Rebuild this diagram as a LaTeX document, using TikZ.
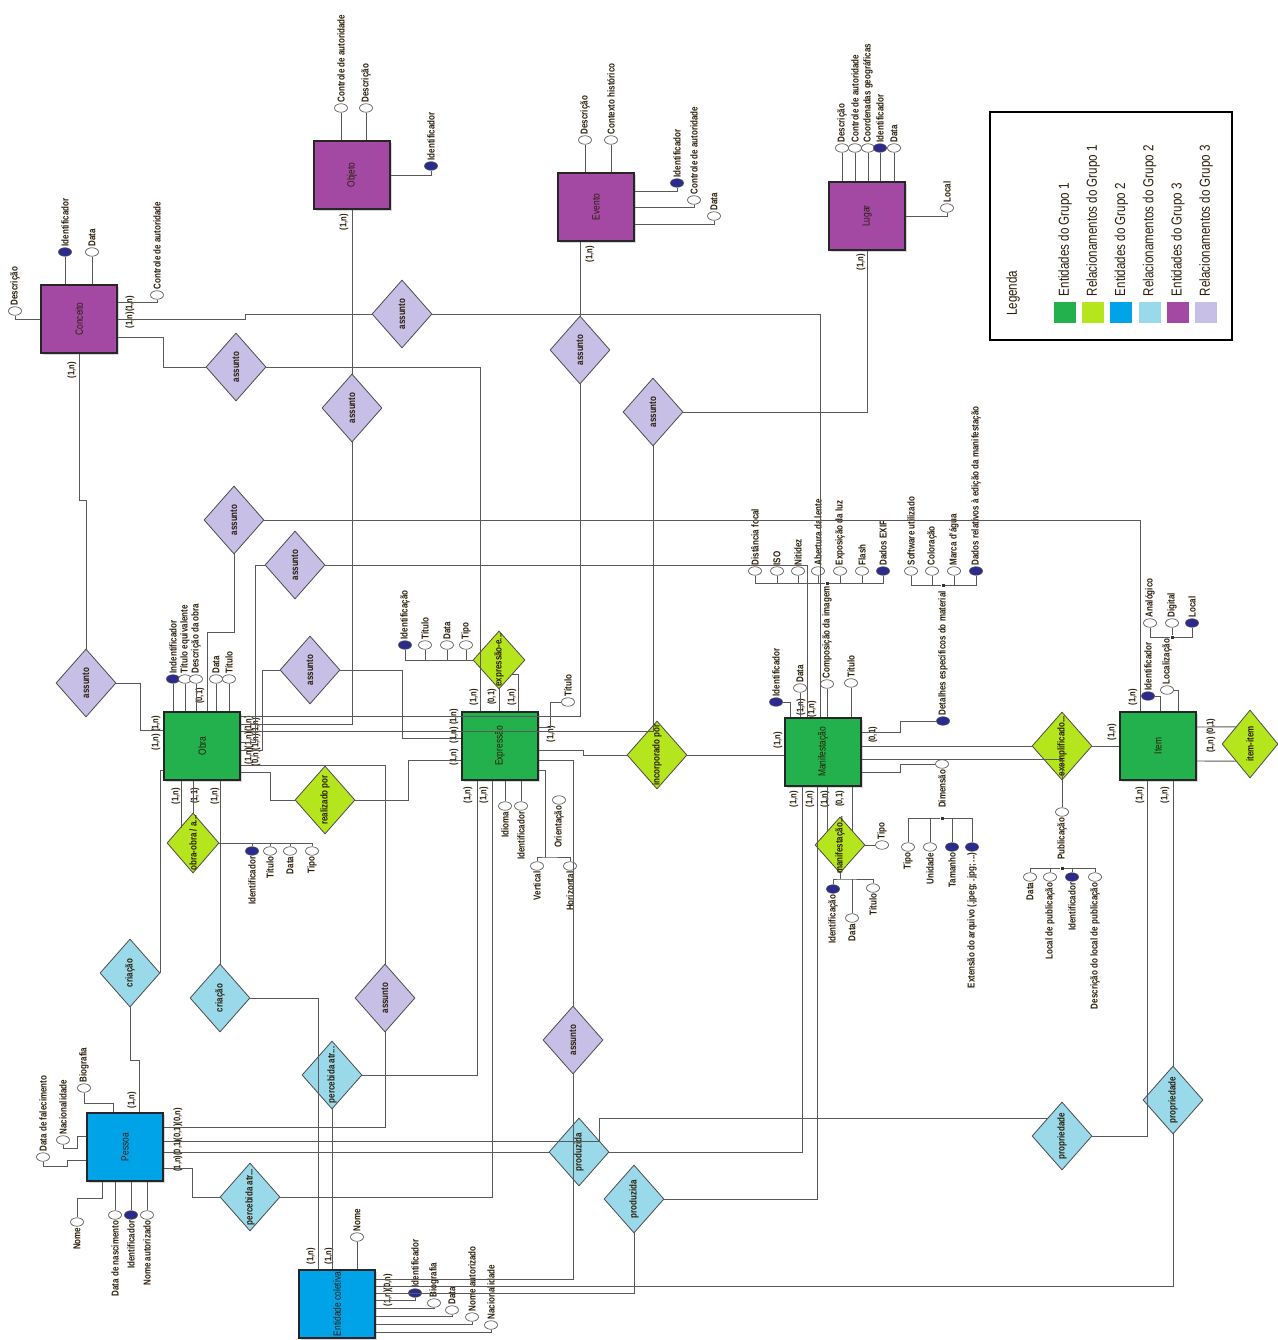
\documentclass[tikz,border=0pt]{standalone}
\usepackage{fontspec}
\setmainfont{Liberation Sans}[FakeStretch=0.8]
\usepackage{graphicx}
\usepackage{tikz}
\usetikzlibrary{shapes.geometric,positioning,calc,shadows}
\definecolor{GrpOneEnt}{HTML}{22B14C}
\definecolor{GrpOneRel}{HTML}{B5E61D}
\definecolor{GrpTwoEnt}{HTML}{00A2E8}
\definecolor{GrpTwoRel}{HTML}{99D9EA}
\definecolor{GrpThreeEnt}{HTML}{A349A4}
\definecolor{GrpThreeRel}{HTML}{C8BFE7}
\definecolor{KeyNavy}{HTML}{2B2B8F}
\definecolor{Ink}{HTML}{2A1E0A}
\newcommand{\vtxt}[1]{\rotatebox{90}{\makebox[0pt]{#1}}}

\begin{document}
\begin{tikzpicture}[x=1pt,y=-1pt,
  every node/.append style={text=Ink},
  entity/.style={draw=black!85,line width=1.3pt,minimum width=76pt,minimum height=68pt,inner sep=0pt,
                 font=\fontsize{10.5}{10.5}\selectfont,drop shadow={shadow xshift=2pt,shadow yshift=-2pt,fill=black!30}},
  rel/.style={diamond,draw=black!70,line width=0.8pt,minimum width=60pt,minimum height=68pt,inner sep=0pt,
              font=\fontsize{10}{10}\selectfont\bfseries},
  attr/.style={ellipse,draw=black!70,line width=0.6pt,fill=white,minimum width=13pt,minimum height=8.5pt,inner sep=0pt},
  keyattr/.style={attr,fill=KeyNavy},
  lblup/.style={rotate=90,anchor=west,inner sep=1pt,font=\fontsize{10}{10}\selectfont\bfseries},
  lbldn/.style={rotate=90,anchor=east,inner sep=1pt,font=\fontsize{10}{10}\selectfont\bfseries},
  card/.style={rotate=90,inner sep=0pt,font=\fontsize{9.5}{9.5}\selectfont\bfseries},
  link/.style={draw=black!65,line width=0.9pt},
  junction/.style={fill=black!80,minimum size=3pt,inner sep=0pt},
  swatch/.style={minimum width=22pt,minimum height=21pt,inner sep=0pt},
  legtext/.style={rotate=90,anchor=west,inner sep=0pt,font=\fontsize{14.5}{14.5}\selectfont}
]
\fill[white] (0,0) rectangle (1277,1340);
\useasboundingbox (0,0) rectangle (1277,1340);

% entidades
\node[entity,fill=GrpThreeEnt] (conceito) at (79,319) {\vtxt{Conceito}};
\node[entity,fill=GrpThreeEnt] (objeto) at (352,175) {\vtxt{Objeto}};
\node[entity,fill=GrpThreeEnt] (evento) at (596,207) {\vtxt{Evento}};
\node[entity,fill=GrpThreeEnt] (lugar) at (867,216) {\vtxt{Lugar}};
\node[entity,fill=GrpOneEnt] (obra) at (202,746) {\vtxt{Obra}};
\node[entity,fill=GrpOneEnt] (expressao) at (500,746) {\vtxt{Expressão}};
\node[entity,fill=GrpOneEnt] (manifestacao) at (823,752) {\vtxt{Manifestação}};
\node[entity,fill=GrpOneEnt] (item) at (1158,746) {\vtxt{Item}};
\node[entity,fill=GrpTwoEnt] (pessoa) at (125,1147) {\vtxt{Pessoa}};
\node[entity,fill=GrpTwoEnt] (coletiva) at (337,1304) {\vtxt{Entidade coletiva}};

% relacionamentos do grupo 3
\node[rel,fill=GrpThreeRel] (sC1) at (402,314) {\vtxt{assunto}};
\node[rel,fill=GrpThreeRel] (sC2) at (236,367) {\vtxt{assunto}};
\node[rel,fill=GrpThreeRel] (sC3) at (86,683) {\vtxt{assunto}};
\node[rel,fill=GrpThreeRel] (sObj) at (352,408) {\vtxt{assunto}};
\node[rel,fill=GrpThreeRel] (sEv) at (580,350) {\vtxt{assunto}};
\node[rel,fill=GrpThreeRel] (sLu) at (653,412) {\vtxt{assunto}};
\node[rel,fill=GrpThreeRel] (sIt) at (234,520) {\vtxt{assunto}};
\node[rel,fill=GrpThreeRel] (sMa) at (295,565) {\vtxt{assunto}};
\node[rel,fill=GrpThreeRel] (sEx) at (310,670) {\vtxt{assunto}};
\node[rel,fill=GrpThreeRel] (sPe) at (385,998) {\vtxt{assunto}};
\node[rel,fill=GrpThreeRel] (sCo) at (573,1040) {\vtxt{assunto}};

% relacionamentos do grupo 1
\node[rel,fill=GrpOneRel] (realizado) at (325,800) {\vtxt{realizado por}};
\node[rel,fill=GrpOneRel,minimum width=52pt,minimum height=60pt] (obraobra) at (193,843) {\vtxt{obra-obra / a...}};
\node[rel,fill=GrpOneRel,minimum width=52pt,minimum height=58pt] (exprexpr) at (499,660) {\vtxt{expressão-e...}};
\node[rel,fill=GrpOneRel] (incorporado) at (657,755) {\vtxt{incorporado por}};
\node[rel,fill=GrpOneRel,minimum width=50pt,minimum height=56pt] (manimani) at (840,845) {\vtxt{manifestação...}};
\node[rel,fill=GrpOneRel] (exemplificado) at (1062,746) {\vtxt{exemplificado...}};
\node[rel,fill=GrpOneRel,minimum width=56pt] (itemitem) at (1250,744) {\vtxt{item-item}};

% relacionamentos do grupo 2
\node[rel,fill=GrpTwoRel] (criP) at (130,973) {\vtxt{criação}};
\node[rel,fill=GrpTwoRel] (criC) at (220,998) {\vtxt{criação}};
\node[rel,fill=GrpTwoRel] (percP) at (250,1197) {\vtxt{percebida atr...}};
\node[rel,fill=GrpTwoRel] (percC) at (332,1075) {\vtxt{percebida atr...}};
\node[rel,fill=GrpTwoRel] (prodP) at (579,1152) {\vtxt{produzida}};
\node[rel,fill=GrpTwoRel] (prodC) at (634,1199) {\vtxt{produzida}};
\node[rel,fill=GrpTwoRel] (propP) at (1062,1136) {\vtxt{propriedade}};
\node[rel,fill=GrpTwoRel] (propC) at (1173,1100) {\vtxt{propriedade}};

% atributos: Conceito
\node[attr] (cDesc) at (15,311) {};
\node[lblup] (tcDesc) at (cDesc.north) {Descrição};
\node[keyattr] (cId) at (65,252) {};
\node[lblup] (tcId) at (cId.north) {Identificador};
\node[attr] (cData) at (92,252) {};
\node[lblup] (tcData) at (cData.north) {Data};
\node[attr] (cCtrl) at (157,295) {};
\node[lblup] (tcCtrl) at (cCtrl.north) {Controle de autoridade};

% atributos: Objeto
\node[attr] (oCtrl) at (341,108) {};
\node[lblup] (toCtrl) at (oCtrl.north) {Controle de autoridade};
\node[attr] (oDesc) at (366,108) {};
\node[lblup] (toDesc) at (oDesc.north) {Descrição};
\node[keyattr] (oId) at (431,166) {};
\node[lblup] (toId) at (oId.north) {Identificador};

% atributos: Evento
\node[attr] (eDesc) at (585,140) {};
\node[lblup] (teDesc) at (eDesc.north) {Descrição};
\node[attr] (eCtx) at (611,140) {};
\node[lblup] (teCtx) at (eCtx.north) {Contexto histórico};
\node[keyattr] (eId) at (677,183) {};
\node[lblup] (teId) at (eId.north) {Identificador};
\node[attr] (eCtrl) at (694,200) {};
\node[lblup] (teCtrl) at (eCtrl.north) {Controle de autoridade};
\node[attr] (eData) at (714,216) {};
\node[lblup] (teData) at (eData.north) {Data};

% atributos: Lugar
\node[attr] (lDesc) at (842,148) {};
\node[lblup] (tlDesc) at (lDesc.north) {Descrição};
\node[attr] (lCtrl) at (855,148) {};
\node[lblup] (tlCtrl) at (lCtrl.north) {Controle de autoridade};
\node[attr] (lCoord) at (868,148) {};
\node[lblup] (tlCoord) at (lCoord.north) {Coordenadas geográficas};
\node[keyattr] (lId) at (880,148) {};
\node[lblup] (tlId) at (lId.north) {Identificador};
\node[attr] (lData) at (894,148) {};
\node[lblup] (tlData) at (lData.north) {Data};
\node[attr] (lLocal) at (947,208) {};
\node[lblup] (tlLocal) at (lLocal.north) {Local};

% atributos: Obra
\node[keyattr] (obId) at (173,679) {};
\node[lblup] (tobId) at (obId.north) {Indentificador};
\node[attr] (obTeq) at (185,679) {};
\node[lblup] (tobTeq) at (obTeq.north) {Título equivalente};
\node[attr] (obDesc) at (196,679) {};
\node[lblup] (tobDesc) at (obDesc.north) {Descrição da obra};
\node[attr] (obData) at (216,679) {};
\node[lblup] (tobData) at (obData.north) {Data};
\node[attr] (obTit) at (229,679) {};
\node[lblup] (tobTit) at (obTit.north) {Título};
\node[keyattr] (ooId) at (252,851) {};
\node[lbldn] (tooId) at (ooId.south) {Identificador};
\node[attr] (ooTit) at (270,851) {};
\node[lbldn] (tooTit) at (ooTit.south) {Título};
\node[attr] (ooData) at (290,851) {};
\node[lbldn] (tooData) at (ooData.south) {Data};
\node[attr] (ooTipo) at (312,851) {};
\node[lbldn] (tooTipo) at (ooTipo.south) {Tipo};

% atributos: Expressao
\node[keyattr] (eeId) at (405,645) {};
\node[lblup] (teeId) at (eeId.north) {Identificação};
\node[attr] (eeTi) at (425,645) {};
\node[lblup] (teeTi) at (eeTi.north) {Título};
\node[attr] (eeDa) at (447,645) {};
\node[lblup] (teeDa) at (eeDa.north) {Data};
\node[attr] (eeTp) at (466,645) {};
\node[lblup] (teeTp) at (eeTp.north) {Tipo};
\node[attr] (exTit) at (568,702) {};
\node[lblup] (texTit) at (exTit.north) {Título};
\node[attr] (exIdi) at (505,806) {};
\node[lbldn] (texIdi) at (exIdi.south) {Idioma};
\node[attr] (exIdf) at (521,806) {};
\node[lbldn] (texIdf) at (exIdf.south) {Identificador};
\node[attr] (exOri) at (559,800) {};
\node[lbldn] (texOri) at (exOri.south) {Orientação};
\coordinate (oriJ) at (545,857);
\node[attr] (exVer) at (537,866) {};
\node[lbldn] (texVer) at (exVer.south) {Vertical};
\node[attr] (exHor) at (570,866) {};
\node[lbldn] (texHor) at (exHor.south) {Horizontal};

% atributos: Manifestacao
\node[keyattr] (mId) at (776,702) {};
\node[lblup] (tmId) at (mId.north) {Identificador};
\node[attr] (mData) at (800,688) {};
\node[lblup] (tmData) at (mData.north) {Data};
\node[attr] (mComp) at (827,684) {};
\node[lblup] (tmComp) at (mComp.north) {Composição da imagem};
\node[attr] (mTit) at (851,683) {};
\node[lblup] (tmTit) at (mTit.north) {Título};
\node[junction] (cpJ) at (827,583) {};
\node[attr] (cpDist) at (755,571) {};
\node[lblup] (tcpDist) at (cpDist.north) {Distância focal};
\node[attr] (cpIso) at (777,571) {};
\node[lblup] (tcpIso) at (cpIso.north) {ISO};
\node[attr] (cpNit) at (798,571) {};
\node[lblup] (tcpNit) at (cpNit.north) {Nitidez};
\node[attr] (cpAbe) at (818,571) {};
\node[lblup] (tcpAbe) at (cpAbe.north) {Abertura da lente};
\node[attr] (cpExp) at (840,571) {};
\node[lblup] (tcpExp) at (cpExp.north) {Exposição da luz};
\node[attr] (cpFla) at (862,571) {};
\node[lblup] (tcpFla) at (cpFla.north) {Flash};
\node[keyattr] (cpExif) at (883,571) {};
\node[lblup] (tcpExif) at (cpExif.north) {Dados EXIF};
\node[keyattr] (mDet) at (943,721) {};
\node[lblup] (tmDet) at (mDet.north) {Detalhes específicos do material};
\node[junction] (dtJ) at (943,585) {};
\node[attr] (dtSoft) at (911,571) {};
\node[lblup] (tdtSoft) at (dtSoft.north) {Software utilizado};
\node[attr] (dtCol) at (932,571) {};
\node[lblup] (tdtCol) at (dtCol.north) {Coloração};
\node[attr] (dtMarca) at (954,571) {};
\node[lblup] (tdtMarca) at (dtMarca.north) {Marca d'água};
\node[keyattr] (dtEd) at (976,571) {};
\node[lblup] (tdtEd) at (dtEd.north) {Dados relativos à edição da manifestação};
\node[attr] (mDim) at (942,764) {};
\node[lbldn] (tmDim) at (mDim.south) {Dimensão};
\node[junction] (dmJ) at (942,818) {};
\node[attr] (dmTipo) at (908,847) {};
\node[lbldn] (tdmTipo) at (dmTipo.south) {Tipo};
\node[attr] (dmUni) at (930,847) {};
\node[lbldn] (tdmUni) at (dmUni.south) {Unidade};
\node[keyattr] (dmTam) at (952,847) {};
\node[lbldn] (tdmTam) at (dmTam.south) {Tamanho};
\node[keyattr] (dmExt) at (972,847) {};
\node[lbldn] (tdmExt) at (dmExt.south) {Extensão do arquivo (.jpeg; .jpg; ...)};
\node[attr] (mPub) at (1062,812) {};
\node[lbldn] (tmPub) at (mPub.south) {Publicação};
\node[junction] (pbJ) at (1062,868) {};
\node[attr] (pbData) at (1030,877) {};
\node[lbldn] (tpbData) at (pbData.south) {Data};
\node[attr] (pbLocal) at (1050,877) {};
\node[lbldn] (tpbLocal) at (pbLocal.south) {Local de publicação};
\node[keyattr] (pbId) at (1072,877) {};
\node[lbldn] (tpbId) at (pbId.south) {Identificador};
\node[attr] (pbDesc) at (1095,877) {};
\node[lbldn] (tpbDesc) at (pbDesc.south) {Descrição do local de publicação};
\node[attr] (mmTipo) at (882,845) {};
\node[lblup] (tmmTipo) at (mmTipo.north) {Tipo};
\coordinate (mmBar) at (840,879);
\node[keyattr] (mmId) at (833,889) {};
\node[lbldn] (tmmId) at (mmId.south) {Identificação};
\node[attr] (mmDa) at (852,918) {};
\node[lbldn] (tmmDa) at (mmDa.south) {Data};
\node[attr] (mmTi) at (873,888) {};
\node[lbldn] (tmmTi) at (mmTi.south) {Título};

% atributos: Item
\node[keyattr] (iId) at (1148,696) {};
\node[lblup] (tiId) at (iId.north) {Identificador};
\node[attr] (iLoc) at (1167,690) {};
\node[lblup] (tiLoc) at (iLoc.north) {Localização};
\node[junction] (lcJ) at (1172,637) {};
\node[attr] (lcAna) at (1150,623) {};
\node[lblup] (tlcAna) at (lcAna.north) {Analógico};
\node[attr] (lcDig) at (1172,623) {};
\node[lblup] (tlcDig) at (lcDig.north) {Digital};
\node[keyattr] (lcLocal) at (1192,623) {};
\node[lblup] (tlcLocal) at (lcLocal.north) {Local};

% atributos: Pessoa
\node[attr] (pBio) at (84,1088) {};
\node[lblup] (tpBio) at (pBio.north) {Biografia};
\node[attr] (pNac) at (63,1140) {};
\node[lblup] (tpNac) at (pNac.north) {Nacionalidade};
\node[attr] (pFal) at (43,1157) {};
\node[lblup] (tpFal) at (pFal.north) {Data de falecimento};
\node[attr] (pNome) at (77,1222) {};
\node[lbldn] (tpNome) at (pNome.south) {Nome};
\node[attr] (pNasc) at (115,1215) {};
\node[lbldn] (tpNasc) at (pNasc.south) {Data de nascimento};
\node[keyattr] (pId) at (131,1215) {};
\node[lbldn] (tpId) at (pId.south) {Identificador};
\node[attr] (pNAut) at (147,1215) {};
\node[lbldn] (tpNAut) at (pNAut.south) {Nome autorizado};

% atributos: Entidade coletiva
\node[attr] (ecNome) at (357,1237) {};
\node[lblup] (tecNome) at (ecNome.north) {Nome};
\node[keyattr] (ecId) at (415,1293) {};
\node[lblup] (tecId) at (ecId.north) {Identificador};
\node[attr] (ecBio) at (434,1303) {};
\node[lblup] (tecBio) at (ecBio.north) {Biografia};
\node[attr] (ecData) at (452,1310) {};
\node[lblup] (tecData) at (ecData.north) {Data};
\node[attr] (ecNAut) at (472,1317) {};
\node[lblup] (tecNAut) at (ecNAut.north) {Nome autorizado};
\node[attr] (ecNac) at (491,1325) {};
\node[lblup] (tecNac) at (ecNac.north) {Nacionalidade};

% cardinalidades
\node[card] (k1) at (130,312) {(1,n)(1,n)};
\node[card] (k2) at (72,370) {(1,n)};
\node[card] (k3) at (344,222) {(1,n)};
\node[card] (k4) at (590,254) {(1,n)};
\node[card] (k5) at (861,262) {(1,n)};
\node[card] (k6) at (156,733) {(1,n) (1,n)};
\node[card] (k7) at (200,696) {(0,1)};
\node[card] (k8) at (176,796) {(1,n)};
\node[card] (k9) at (195,796) {(1,1)};
\node[card] (k10) at (215,796) {(1,n)};
\node[card] (k11) at (249,740) {(1,n)(1,n)(1,n)};
\node[card] (k12) at (256,742) {(0,n)(1,n)(1,n)};
\node[card] (k13) at (474,697) {(1,n)};
\node[card] (k14) at (492,697) {(0,1)};
\node[card] (k15) at (512,697) {(1,n)};
\node[card] (k16) at (454,726) {(1,n) (1,n)};
\node[card] (k17) at (454,757) {(1,n)};
\node[card] (k18) at (468,795) {(1,n)};
\node[card] (k19) at (484,795) {(1,n)};
\node[card] (k20) at (551,734) {(1,n)};
\node[card] (k21) at (778,740) {(1,n)};
\node[card] (k22) at (801,707) {(1,n)};
\node[card] (k23) at (812,709) {(1,n)};
\node[card] (k24) at (873,735) {(0,1)};
\node[card] (k25) at (794,799) {(1,n)};
\node[card] (k26) at (810,799) {(1,n)};
\node[card] (k27) at (825,799) {(1,n)};
\node[card] (k28) at (840,799) {(0,1)};
\node[card] (k29) at (1133,697) {(1,n)};
\node[card] (k30) at (1112,732) {(1,n)};
\node[card] (k31) at (1211,736) {(1,n) (0,1)};
\node[card] (k32) at (1140,795) {(1,n)};
\node[card] (k33) at (1165,795) {(1,n)};
\node[card] (k34) at (132,1100) {(1,n)};
\node[card] (k35) at (178,1140) {(1,n)(0,1)(0,1)(0,n)};
\node[card] (k36) at (311,1256) {(1,n)};
\node[card] (k37) at (329,1256) {(1,n)};
\node[card] (k38) at (388,1290) {(1,n)(0,n)};

% ligacoes: Conceito
\draw[link] (conceito.west |- 0,319) -| (cDesc);
\draw[link] (conceito.north -| cId) -- (cId);
\draw[link] (conceito.north -| cData) -- (cData);
\draw[link] (conceito.east |- 0,302) -| (cCtrl);
\draw[link] (conceito.east |- 0,319) -- (245,319) |- (sC1.west);
\draw[link] (sC1.east) -| (manifestacao.north -| 820,0);
\draw[link] (conceito.east |- 0,337) -- (163,337) |- (sC2.west);
\draw[link] (sC2.east) -| (expressao.north -| 480,0);
\draw[link] (conceito.south) -- (79,500) -| (sC3.north);
\draw[link] (sC3.east) -- (140,683) |- (obra.west |- 0,730);

% ligacoes: Objeto, Evento, Lugar
\draw[link] (objeto.north -| oCtrl) -- (oCtrl);
\draw[link] (objeto.north -| oDesc) -- (oDesc);
\draw[link] (objeto.east |- 0,175) -| (oId);
\draw[link] (objeto.south) -- (sObj.north);
\draw[link] (sObj.south) |- (obra.east |- 0,724);
\draw[link] (evento.north -| eDesc) -- (eDesc);
\draw[link] (evento.north -| eCtx) -- (eCtx);
\draw[link] (evento.east |- 0,191) -| (eId);
\draw[link] (evento.east |- 0,207) -| (eCtrl);
\draw[link] (evento.east |- 0,224) -| (eData);
\draw[link] (evento.south -| sEv) -- (sEv.north);
\draw[link] (sEv.south) |- (obra.east |- 0,716);
\draw[link] (lugar.north -| lDesc) -- (lDesc);
\draw[link] (lugar.north -| lCtrl) -- (lCtrl);
\draw[link] (lugar.north -| lCoord) -- (lCoord);
\draw[link] (lugar.north -| lId) -- (lId);
\draw[link] (lugar.north -| lData) -- (lData);
\draw[link] (lugar.east) -| (lLocal);
\draw[link] (lugar.south) |- (sLu.east);
\draw[link] (sLu.south) |- (obra.east |- 0,731);

% ligacoes: Obra
\draw[link] (obra.north -| obId) -- (obId);
\draw[link] (obra.north -| obTeq) -- (obTeq);
\draw[link] (obra.north -| obDesc) -- (obDesc);
\draw[link] (obra.north -| obData) -- (obData);
\draw[link] (obra.north -| obTit) -- (obTit);
\draw[link] (obra.north -| 207,0) -- (207,632) -| (sIt.south);
\draw[link] (sIt.east) -| (item.north -| 1140,0);
\draw[link] (obra.east |- 0,742) -- (255,742) |- (sMa.west);
\draw[link] (sMa.east) -| (manifestacao.north -| 807,0);
\draw[link] (obra.east |- 0,750) -- (262,750) |- (sEx.west);
\draw[link] (sEx.east) -- (402,670) |- (expressao.west |- 0,738);
\draw[link] (obra.east |- 0,765) -| (sPe.north);
\draw[link] (sPe.south) |- (pessoa.east |- 0,1127);
\draw[link] (obra.east |- 0,772) -- (270,772) |- (realizado.west);
\draw[link] (realizado.east) -- (408,800) |- (expressao.west |- 0,760);
\draw[link] (obra.south -| obraobra) -- (obraobra.north);
\draw[link] (obra.south -| 181,0) -- (obraobra.north west -| 181,0);
\draw[link] (obraobra.east) -| (ooTipo);
\draw[link] (ooId) -- (ooId |- obraobra.east);
\draw[link] (ooTit) -- (ooTit |- obraobra.east);
\draw[link] (ooData) -- (ooData |- obraobra.east);
\draw[link] (obra.west |- 0,770) -| (criP.east);
\draw[link] (obra.south -| criC) -- (criC.north);

% ligacoes: Expressao
\draw[link] (expressao.north -| exprexpr) -- (exprexpr.south);
\draw[link] (expressao.north -| 518,0) |- (exprexpr.south east);
\draw[link] (eeId) |- (exprexpr.west);
\draw[link] (eeTi) -- (eeTi |- exprexpr.west);
\draw[link] (eeDa) -- (eeDa |- exprexpr.west);
\draw[link] (eeTp) -- (eeTp |- exprexpr.west);
\draw[link] (expressao.east |- 0,727) -- (550,727) |- (exTit);
\draw[link] (expressao.south -| exIdi) -- (exIdi);
\draw[link] (expressao.south -| exIdf) -- (exIdf);
\draw[link] (expressao.east |- 0,770) -| (oriJ);
\draw[link] (exVer) |- (oriJ) -| (exHor);
\draw[link] (expressao.east |- 0,750) -- (583,750) |- (incorporado.west);
\draw[link] (incorporado.east) -- (incorporado.east -| manifestacao.west);
\draw[link] (expressao.east |- 0,760) -| (sCo.north);
\draw[link] (sCo.south) |- (coletiva.east |- 0,1279);
\draw[link] (expressao.south -| 477,0) |- (percC.east);
\draw[link] (expressao.south -| 492,0) |- (percP.east);

% ligacoes: Manifestacao
\draw[link] (manifestacao.north -| 790,0) |- (mId);
\draw[link] (manifestacao.north -| mData) -- (mData);
\draw[link] (manifestacao.north -| mComp) -- (mComp);
\draw[link] (manifestacao.north -| mTit) -- (mTit);
\draw[link] (cpDist) |- (cpJ) -| (cpExif);
\draw[link] (cpIso) -- (cpIso |- cpJ);
\draw[link] (cpNit) -- (cpNit |- cpJ);
\draw[link] (cpAbe) -- (cpAbe |- cpJ);
\draw[link] (cpExp) -- (cpExp |- cpJ);
\draw[link] (cpFla) -- (cpFla |- cpJ);
\draw[link] (manifestacao.east |- 0,732) -- (900,732) |- (mDet);
\draw[link] (dtSoft) |- (dtJ) -| (dtEd);
\draw[link] (dtCol) -- (dtCol |- dtJ);
\draw[link] (dtMarca) -- (dtMarca |- dtJ);
\draw[link] (manifestacao.east |- 0,746) -- (exemplificado.west);
\draw[link] (exemplificado.east) -- (item.west |- exemplificado.east);
\draw[link] (manifestacao.east |- 0,759) -| (mPub);
\draw[link] (pbData) |- (pbJ) -| (pbDesc);
\draw[link] (pbLocal) -- (pbLocal |- pbJ);
\draw[link] (pbId) -- (pbId |- pbJ);
\draw[link] (manifestacao.east |- 0,772) -- (900,772) |- (mDim);
\draw[link] (dmTipo) |- (dmJ) -| (dmExt);
\draw[link] (dmUni) -- (dmUni |- dmJ);
\draw[link] (dmTam) -- (dmTam |- dmJ);
\draw[link] (manifestacao.south -| 802,0) |- (prodP.east);
\draw[link] (manifestacao.south -| 817,0) |- (prodC.east);
\draw[link] (manifestacao.south -| manimani.north west) -- (manimani.north west);
\draw[link] (manifestacao.south -| manimani.north east) -- (manimani.north east);
\draw[link] (manimani.east) -- (mmTipo);
\draw[link] (manimani.south) -- (mmBar);
\draw[link] (mmId) |- (mmBar) -| (mmTi);
\draw[link] (mmDa) -- (mmDa |- mmBar);

% ligacoes: Item
\draw[link] (item.north -| 1160,0) |- (iId);
\draw[link] (item.north -| 1178,0) |- (iLoc);
\draw[link] (lcAna) |- (lcJ) -| (lcLocal);
\draw[link] (lcDig) -- (lcJ);
\draw[link] (item.east |- 0,727) -- (itemitem.north west);
\draw[link] (item.east |- 0,761) -- (itemitem.south west);
\draw[link] (item.south -| 1147,0) |- (propP.east);
\draw[link] (item.south -| propC) -- (propC.north);
\draw[link] (propC.south) |- (coletiva.east |- 0,1286);

% ligacoes: Pessoa
\draw[link] (pessoa.north -| 113,0) -- (113,1103) -| (pBio);
\draw[link] (pessoa.west |- 0,1136) -- (77,1136) -- (77,1148) -| (pNac);
\draw[link] (pessoa.west |- 0,1160) -- (67,1160) -- (67,1166) -| (pFal);
\draw[link] (pessoa.south -| 102,0) -- (102,1198) -| (pNome);
\draw[link] (pessoa.south -| pNasc) -- (pNasc);
\draw[link] (pessoa.south -| pId) -- (pId);
\draw[link] (pessoa.south -| pNAut) -- (pNAut);
\draw[link] (criP.south) -- (130,1060) -| (pessoa.north -| 139,0);
\draw[link] (pessoa.east |- 0,1141) -- (599,1141) |- (propP.north west);
\draw[link] (pessoa.east |- 0,1152) -- (prodP.west);
\draw[link] (pessoa.east |- 0,1168) -- (192,1168) |- (percP.west);

% ligacoes: Entidade coletiva
\draw[link] (criC.east) -| (coletiva.north -| 318,0);
\draw[link] (percC.south) -- (coletiva.north -| percC.south);
\draw[link] (coletiva.north -| ecNome) -- (ecNome);
\draw[link] (coletiva.east |- 0,1293) -| (prodC.south);
\draw[link] (coletiva.east |- 0,1300) -| (ecId);
\draw[link] (coletiva.east |- 0,1308) -| (ecBio);
\draw[link] (coletiva.east |- 0,1316) -| (ecData);
\draw[link] (coletiva.east |- 0,1324) -| (ecNAut);
\draw[link] (coletiva.east |- 0,1332) -| (ecNac);

% legenda
\node[draw=black,line width=2.5pt,minimum width=242pt,minimum height=228pt,inner sep=0pt] (legenda) at (1111,226) {};
\node[legtext] (legtitle) at (1013,316) {Legenda};
\node[swatch,fill=GrpOneEnt] (sw1) at (1065,312) {};
\node[swatch,fill=GrpOneRel,right=5.8pt of sw1] (sw2) {};
\node[swatch,fill=GrpTwoEnt,right=5.8pt of sw2] (sw3) {};
\node[swatch,fill=GrpTwoRel,right=5.8pt of sw3] (sw4) {};
\node[swatch,fill=GrpThreeEnt,right=5.8pt of sw4] (sw5) {};
\node[swatch,fill=GrpThreeRel,right=5.8pt of sw5] (sw6) {};
\node[legtext] (lg1) at ($(sw1.north)+(0,-5)$) {Entidades do Grupo 1};
\node[legtext] (lg2) at ($(sw2.north)+(0,-5)$) {Relacionamentos do Grupo 1};
\node[legtext] (lg3) at ($(sw3.north)+(0,-5)$) {Entidades do Grupo 2};
\node[legtext] (lg4) at ($(sw4.north)+(0,-5)$) {Relacionamentos do Grupo 2};
\node[legtext] (lg5) at ($(sw5.north)+(0,-5)$) {Entidades do Grupo 3};
\node[legtext] (lg6) at ($(sw6.north)+(0,-5)$) {Relacionamentos do Grupo 3};
\end{tikzpicture}
\end{document}
